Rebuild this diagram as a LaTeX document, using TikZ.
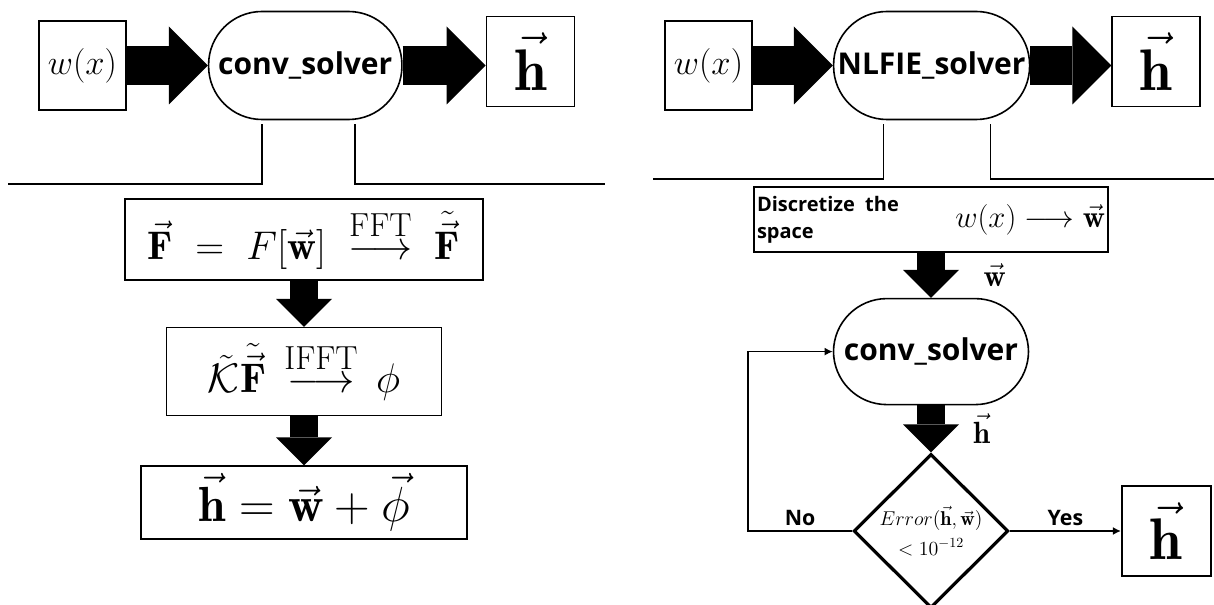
\RequirePackage{fix-cm}
\documentclass[tikz,border=0pt]{standalone}
\usepackage{amsmath, amssymb}
\usepackage{fontspec}
\newfontfamily\osb{Open Sans}
\usepackage{tikz}
\usetikzlibrary{positioning, shapes.geometric, arrows.meta}

\newcommand{\arrowtxt}[1]{\text{\fontsize{25}{28}\selectfont #1}}

\begin{document}
\begin{tikzpicture}[
	x=0.75pt, y=-0.75pt,
	box/.style={draw, line width=1.2pt, inner sep=0pt, font=\fontsize{30}{34}\selectfont},
	inbox/.style={draw, line width=1.2pt, inner sep=0pt, minimum width=65.25pt, minimum height=66.75pt, font=\fontsize{26}{30}\selectfont},
	outbox/.style={inbox, minimum width=66pt, minimum height=67.5pt, font=\fontsize{44}{48}\selectfont},
	solver/.style={draw, line width=1.2pt, rounded corners=40pt, minimum width=145pt, minimum height=81pt, inner sep=0pt, font=\osb\bfseries\fontsize{22.5}{26}\selectfont},
	decide/.style={draw, diamond, aspect=1, line width=2.4pt, minimum width=116pt, minimum height=115.5pt, inner sep=0pt, align=center, font=\fontsize{15}{22}\selectfont},
	fatright/.style={line width=29.25pt, -{Triangle[length=29.25pt 0 0, width=58.5pt 0 0, line width=0pt 0 0]}},
	fatdown/.style={line width=21pt, -{Triangle[length=21pt 0 0, width=42pt 0 0, line width=0pt 0 0]}},
	link/.style={line width=1.2pt},
	lbl/.style={inner sep=0pt, font=\osb\bfseries\fontsize{16}{18}\selectfont},
	veclbl/.style={inner sep=0pt, font=\fontsize{23}{26}\selectfont},
	>={Latex[length=6pt, width=6pt]}
]
	\useasboundingbox (0,0) rectangle (1214,605);

	% left: conv_solver
	\node[inbox] (wxL) at (82.5,65.5) {$w(x)$};
	\node[solver, right=60.75pt of wxL] (convL) {conv\_solver};
	\node[outbox, right=62.25pt of convL, yshift=3pt] (outL) {$\vec{\mathbf{h}}$};
	\draw[fatright] (wxL) -- (convL);
	\draw[fatright] (convL) -- (convL -| outL.west);
	\draw[link] (convL.south) ++(-43.5,4) |- (8,184);
	\draw[link] (convL.south) ++(49.5,4) |- (605,184);

	\node[box, minimum width=268.5pt, minimum height=60.75pt] (fftL) at (304,239.5)
		{$\vec{\mathbf{F}} \;=\; F[\vec{\mathbf{w}}] \;\overset{\arrowtxt{FFT}}{\longrightarrow}\; \tilde{\vec{\mathbf{F}}}$};
	\node[box, minimum width=206.25pt, minimum height=66pt, below=34.5pt of fftL, font=\fontsize{31}{34}\selectfont] (ifftL)
		{$\tilde{\mathcal{K}}\tilde{\vec{\mathbf{F}}} \,\overset{\arrowtxt{IFFT}}{\longrightarrow}\, \phi$};
	\node[box, minimum width=244.5pt, minimum height=54.75pt, below=36.75pt of ifftL, font=\fontsize{37}{40}\selectfont] (sumL)
		{$\vec{\mathbf{h}} = \vec{\mathbf{w}} + \vec{\phi}$};
	\draw[fatdown] (fftL) -- (ifftL);
	\draw[fatdown] (ifftL) -- (sumL);

	% right: NLFIE_solver
	\node[inbox] (wxR) at (708.5,65.5) {$w(x)$};
	\node[solver, minimum width=147pt, right=60pt of wxR] (nlfie) {NLFIE\_solver};
	\node[outbox, right=60.75pt of nlfie, yshift=3pt] (outR) {$\vec{\mathbf{h}}$};
	\draw[fatright] (wxR) -- (nlfie);
	\draw[fatright] (nlfie) -- (nlfie -| outR.west);
	\draw[link] (nlfie.south) ++(-48,4) |- (653,179);
	\draw[link] (nlfie.south) ++(59,4) |- (1214,179);

	\node[box, minimum width=265.5pt, minimum height=48.75pt, inner xsep=2.25pt, text width=261pt, font=\fontsize{23}{26}\selectfont] (disc) at (931,219.5)
		{\noindent\parbox[c]{120pt}{\osb\bfseries\fontsize{15}{20}\selectfont Discretize the\\space}\hfill$w(x) \longrightarrow \vec{\mathbf{w}}$\hspace{14pt}};
	\node[solver, minimum width=146.25pt, minimum height=79.5pt, below=33.75pt of disc] (convR) {conv\_solver};
	\node[decide, below=35.25pt of convR] (check)
		{$Error(\vec{\mathbf{h}},\vec{\mathbf{w}})$\\$<10^{-12}$};
	\node[outbox, minimum width=66.75pt, right=83.25pt of check] (outRb) {$\vec{\mathbf{h}}$};

	\draw[fatdown] (disc) -- node[veclbl, right=29pt] {$\vec{\mathbf{w}}$} (convR);
	\draw[fatdown] (convR) -- node[veclbl, right=21pt] {$\vec{\mathbf{h}}$} (check);
	\draw[link, ->] (check.west) -- node[lbl, above=3pt] {No} ++(-104,0) |- (convR.west);
	\draw[link, ->] (check.east) -- node[lbl, above=3pt] {Yes} (outRb.west);
\end{tikzpicture}
\end{document}
